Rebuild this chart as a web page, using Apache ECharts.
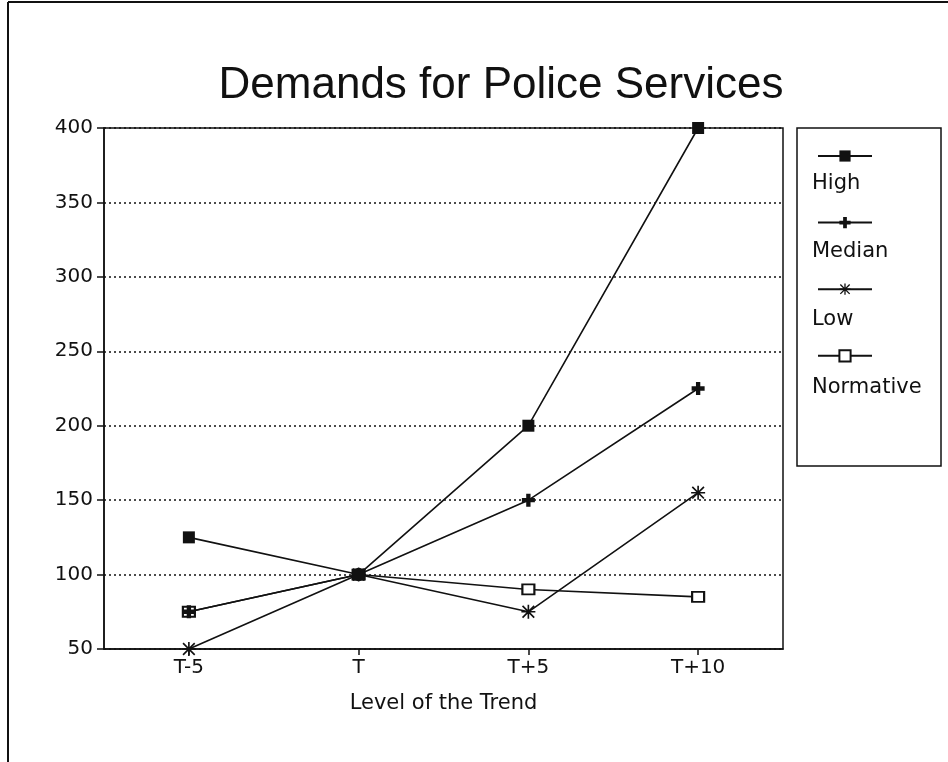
<!DOCTYPE html>
<html>
<head>
<meta charset="utf-8">
<script src="https://cdn.jsdelivr.net/npm/echarts@6/dist/echarts.min.js"></script>
<style>
  html, body { margin: 0; padding: 0; background: #fff; }
  #chart { width: 948px; height: 762px; }
</style>
</head>
<body>
<div id="chart"></div>
<script>
// Trend levels along the x axis
const categories = ['T-5', 'T', 'T+5', 'T+10'];

// Projected demand per scenario
const highValues = [125, 100, 200, 400];
const medianValues = [75, 100, 150, 225];
const lowValues = [50, 100, 75, 155];
const normativeValues = [75, 100, 90, 85];

const seriesNames = ['High', 'Median', 'Low', 'Normative'];
const yTicks = [50, 100, 150, 200, 250, 300, 350, 400];

const TITLE_FONT = '"Liberation Sans", Arial, sans-serif';
const FONT = '"DejaVu Sans", sans-serif';
const INK = '#111';

// Marker shapes
const plusPath = 'path://M4,0h4v4h4v4h-4v4h-4v-4h-4v-4h4z';
const starPath = 'path://M5.3,0h1.4v12h-1.4z M0,5.3h12v1.4h-12z M1.5,0.5L11.5,10.5L10.5,11.5L0.5,1.5z M10.5,0.5L11.5,1.5L1.5,11.5L0.5,10.5z';

function lineSeries(name, values, symbol, size, z, empty) {
  return {
    name: name,
    type: 'line',
    data: values,
    symbol: symbol,
    symbolSize: size,
    showAllSymbol: true,
    lineStyle: { color: INK, width: 1.6, type: 'solid' },
    itemStyle: empty
      ? { color: INK, borderColor: INK, borderWidth: 1.4 }
      : { color: INK, borderColor: INK, borderWidth: 0 },
    emphasis: { disabled: true },
    animation: false,
    z: z
  };
}

const chart = echarts.init(document.getElementById('chart'), null, { renderer: 'canvas' });

const legendTop = 144;
const legendStep = 68;

chart.setOption({
  backgroundColor: '#fff',
  animation: false,
  title: {
    text: 'Demands for Police Services',
    left: 496,
    textAlign: 'center',
    top: 59,
    textStyle: { fontFamily: TITLE_FONT, fontSize: 44, fontWeight: 'normal', color: INK }
  },
  grid: {
    left: 104, top: 128, right: 165, bottom: 113,
    show: true, borderColor: INK, borderWidth: 1.5, backgroundColor: 'transparent'
  },
  xAxis: {
    type: 'category',
    data: categories,
    boundaryGap: true,
    name: 'Level of the Trend',
    nameLocation: 'middle',
    nameGap: 44,
    nameTextStyle: { fontFamily: FONT, fontSize: 21, color: INK },
    axisLine: { lineStyle: { color: INK, width: 1.5 } },
    axisTick: { show: true, alignWithLabel: true, length: 6, lineStyle: { color: INK, width: 1.5 } },
    axisLabel: { fontFamily: FONT, fontSize: 20, color: INK, margin: 9 },
    splitLine: { show: false }
  },
  yAxis: {
    type: 'value',
    min: 50,
    max: 400,
    interval: 50,
    axisLine: { show: true, onZero: false, lineStyle: { color: INK, width: 1.5 } },
    axisTick: { show: true, length: 7, lineStyle: { color: INK, width: 1.5 } },
    axisLabel: {
      fontFamily: FONT, fontSize: 20, color: INK, margin: 11,
      formatter: v => (yTicks.indexOf(v) >= 0 ? String(v) : '')
    },
    splitLine: { show: true, lineStyle: { color: INK, width: 1.5, type: [2, 3] } }
  },
  legend: {
    orient: 'vertical',
    left: 812,
    top: legendTop,
    itemWidth: 54,
    itemHeight: 14,
    itemGap: legendStep - 14,
    data: seriesNames,
    formatter: () => '',
    selectedMode: false,
    textStyle: { fontSize: 1 }
  },
  graphic: [
    // outer frame edges
    { type: 'line', shape: { x1: 8, y1: 2, x2: 948, y2: 2 }, style: { stroke: INK, lineWidth: 2 } },
    { type: 'line', shape: { x1: 8, y1: 2, x2: 8, y2: 762 }, style: { stroke: INK, lineWidth: 2 } },
    // legend box
    { type: 'rect', shape: { x: 797, y: 128, width: 144, height: 338 }, style: { fill: 'none', stroke: INK, lineWidth: 1.5 }, z: 1 },
    ...seriesNames.map((n, i) => ({
      type: 'text',
      left: 812,
      top: legendTop + 29 + i * legendStep,
      style: { text: n, fontFamily: FONT, fontSize: 21, fill: INK }
    }))
  ],
  series: [
    lineSeries('Normative', normativeValues, 'emptyRect', [12, 10], 2, true),
    lineSeries('Low', lowValues, starPath, 14, 3, false),
    lineSeries('Median', medianValues, plusPath, 13, 4, false),
    lineSeries('High', highValues, 'rect', 12, 5, false)
  ]
});
</script>
</body>
</html>
